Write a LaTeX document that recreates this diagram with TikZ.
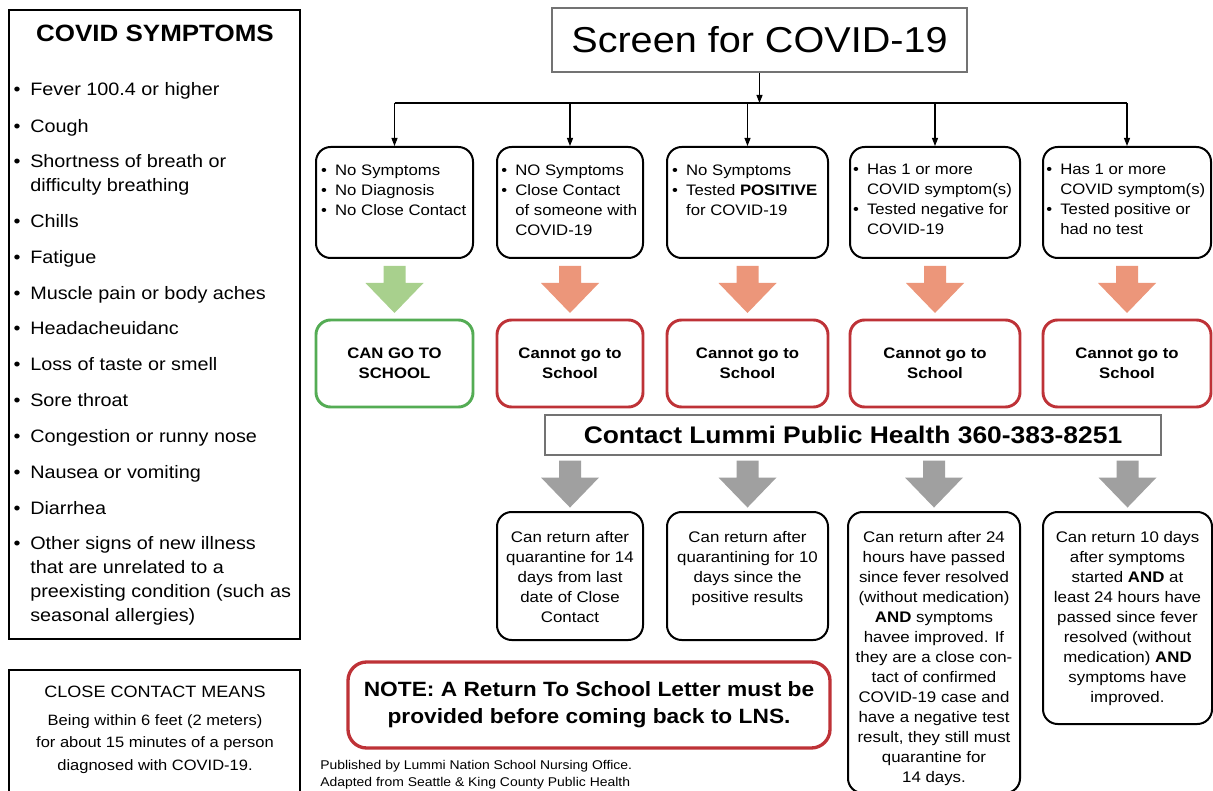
\documentclass[tikz,border=0pt]{standalone}
\usepackage{fontspec}
\setmainfont{Liberation Sans}[FakeStretch=1.1]
\usetikzlibrary{positioning,arrows.meta}

\definecolor{goarrow}{RGB}{168,208,141}
\definecolor{noarrow}{RGB}{236,150,122}
\definecolor{grayarrow}{RGB}{160,160,160}
\definecolor{gogreen}{RGB}{84,172,84}
\definecolor{nored}{RGB}{190,50,55}

\newcommand{\bitem}{\makebox[10.5pt][l]{\textbullet}}
\newcommand{\bcont}{\hspace*{10.5pt}}

\begin{document}
\begin{tikzpicture}[
    x=0.75pt, y=-0.75pt,
    box/.style = {
        rectangle,
        draw=black,
        line width=1.5pt,
        rounded corners=11pt,
        inner sep=0pt,
        align=center
    },
    casebox/.style   = {box, minimum height=83.25pt, font=\fontsize{11.4}{15}\selectfont},
    gobox/.style     = {box, draw=gogreen, line width=2.2pt, minimum height=65.25pt,
                        font=\bfseries\fontsize{11.4}{15}\selectfont},
    nogobox/.style   = {gobox, draw=nored},
    returnbox/.style = {box, font=\fontsize{11.5}{15}\selectfont},
    notebox/.style   = {box, draw=nored, line width=2.5pt, rounded corners=14pt,
                        font=\bfseries\fontsize{15.5}{20}\selectfont},
    frame/.style     = {rectangle, draw=black, line width=1.5pt, inner sep=0pt},
    plainbox/.style  = {rectangle, draw=black!55, line width=0.8pt, inner sep=0pt},
    symitem/.style   = {anchor=base west, inner sep=0pt, font=\fontsize{13.5}{16}\selectfont},
    symbullet/.style = {anchor=base, inner sep=0pt, font=\fontsize{13.5}{16}\selectfont},
    arrow/.style     = {-{Triangle[length=6pt,width=4.5pt]}, line width=0.8pt},
    pics/fatarrow/.style = {code={
        \fill[#1] (-11,0) -- (11,0) -- (11,17) -- (29,17) -- (0,47) -- (-29,17) -- (-11,17) -- cycle;
    }}
]

\path[use as bounding box, fill=white] (0,0) rectangle (1213,791);

% Left panel: symptoms
\node[frame, minimum width=218.25pt, minimum height=471.75pt] (sympanel) at (154.5,324.5) {};
\node[font=\bfseries\fontsize{17.7}{20}\selectfont] (symtitle) at (155,33) {COVID SYMPTOMS};

\foreach \y/\b/\t [count=\i] in {
    96/1/Fever 100.4 or higher,
    133/1/Cough,
    168/1/Shortness of breath or,
    192/0/difficulty breathing,
    228/1/Chills,
    264/1/Fatigue,
    300/1/Muscle pain or body aches,
    335/1/Headacheuidanc,
    370/1/Loss of taste or smell,
    406/1/Sore throat,
    442/1/Congestion or runny nose,
    478/1/Nausea or vomiting,
    514/1/Diarrhea,
    549/1/Other signs of new illness,
    573/0/that are unrelated to a,
    597/0/preexisting condition (such as,
    621/0/seasonal allergies)}
{
    \node[symitem] (sym\i) at (30,\y) {\t};
    \ifnum\b=1 \node[symbullet] (bul\i) at (17,\y) {\textbullet}; \fi
}

% Left panel: close contact
\node[frame, minimum width=218.25pt, minimum height=97.5pt] (ccpanel) at (154.5,735) {};
\node[font=\fontsize{12.3}{14}\selectfont] (cctitle) at (155,692) {CLOSE CONTACT MEANS};
\node[align=center, font=\fontsize{11.25}{17}\selectfont] (cctext) at (155,744) {
    Being within 6 feet (2 meters)\\
    for about 15 minutes of a person\\
    diagnosed with COVID-19.
};

% Screening
\node[plainbox, minimum width=311.25pt, minimum height=48pt, font=\fontsize{27}{30}\selectfont]
    (screen) at (759.5,40) {Screen for COVID-19};
\coordinate (bus) at (760,103);

% Row 1: cases
\node[casebox, minimum width=117.75pt] (c1) at (394.5,202.5) {\parbox[c][57pt][t]{110pt}{\raggedright
    \bitem No Symptoms\\
    \bitem No Diagnosis\\
    \bitem No Close Contact}};

\node[casebox, minimum width=109.5pt] (c2) at (570,202.5) {\parbox[c][57pt][t]{103pt}{\raggedright
    \bitem NO Symptoms\\
    \bitem Close Contact\\
    \bcont of someone with\\
    \bcont COVID-19}};

\node[casebox, minimum width=120.75pt] (c3) at (747.5,202.5) {\parbox[c][57pt][t]{113pt}{\raggedright
    \bitem No Symptoms\\
    \bitem Tested \textbf{POSITIVE}\\
    \bcont for COVID-19}};

\node[casebox, minimum width=127.5pt] (c4) at (935,202.5) {\parbox[c][57pt][t]{123pt}{\raggedright
    \bitem Has 1 or more\\
    \bcont COVID symptom(s)\\
    \bitem Tested negative for\\
    \bcont COVID-19}};

\node[casebox, minimum width=126pt] (c5) at (1127,202.5) {\parbox[c][57pt][t]{121pt}{\raggedright
    \bitem Has 1 or more\\
    \bcont COVID symptom(s)\\
    \bitem Tested positive or\\
    \bcont had no test}};

% Row 2: school
\node[gobox, minimum width=117.75pt] (g1) at (394.5,363.5) {CAN GO TO\\SCHOOL};
\node[nogobox, minimum width=109.5pt] (g2) at (570,363.5) {Cannot go to\\School};
\node[nogobox, minimum width=120.75pt] (g3) at (747.5,363.5) {Cannot go to\\School};
\node[nogobox, minimum width=127.5pt] (g4) at (935,363.5) {Cannot go to\\School};
\node[nogobox, minimum width=126pt] (g5) at (1127,363.5) {Cannot go to\\School};

% Contact
\node[plainbox, minimum width=462pt, minimum height=30pt, font=\bfseries\fontsize{18}{20}\selectfont]
    (contact) at (853,435) {Contact Lummi Public Health 360-383-8251};

% Row 3: return
\node[returnbox, minimum width=109.5pt, minimum height=96pt] (r2) at (570,576)
    {\parbox[c][67.5pt][t]{104pt}{\centering
    Can return after\\ quarantine for 14\\ days from last\\ date of Close\\ Contact}};

\node[returnbox, minimum width=120.75pt, minimum height=96pt] (r3) at (747.5,576)
    {\parbox[c][67.5pt][t]{115pt}{\centering
    Can return after\\ quarantining for 10\\ days since the\\ positive results}};

\node[returnbox, minimum width=129pt, minimum height=210.75pt] (r4) at (934,652.5)
    {\parbox[c][182pt][t]{126pt}{\centering
    Can return after 24\\ hours have passed\\ since fever resolved\\ (without medication)\\
    \textbf{AND} symptoms\\ havee improved. If\\ they are a close con-\\ tact of confirmed\\
    COVID-19 case and\\ have a negative test\\ result, they still must\\ quarantine for\\ 14 days.}};

\node[returnbox, minimum width=126.75pt, minimum height=159pt] (r5) at (1127.5,618)
    {\parbox[c][130.5pt][t]{123pt}{\centering
    Can return 10 days\\ after symptoms\\ started \textbf{AND} at\\ least 24 hours have\\
    passed since fever\\ resolved (without\\ medication) \textbf{AND}\\ symptoms have\\ improved.}};

% Note and footer
\node[notebox, minimum width=361.5pt, minimum height=64.5pt] (note) at (589,705)
    {NOTE: A Return To School Letter must be\\provided before coming back to LNS.};
\node[anchor=north west, inner sep=0pt, align=left, font=\fontsize{9.5}{12.5}\selectfont]
    (footer) at (320,760) {Published by Lummi Nation School Nursing Office.\\
    Adapted from Seattle \& King County Public Health};

% Connectors
\draw[arrow] (screen.south) -- (screen.south |- bus);
\draw[line width=0.8pt] (c1.north |- bus) -- (c5.north |- bus);
\foreach \i in {1,...,5}
    \draw[arrow] (c\i.north |- bus) -- (c\i.north);

\path (c1.south) ++(0,7) pic {fatarrow=goarrow};
\foreach \i in {2,...,5}
    \path (c\i.south) ++(0,7) pic {fatarrow=noarrow};
\foreach \i in {2,...,5}
    \path (contact.south -| r\i.north) ++(0,5) pic {fatarrow=grayarrow};

\end{tikzpicture}
\end{document}
